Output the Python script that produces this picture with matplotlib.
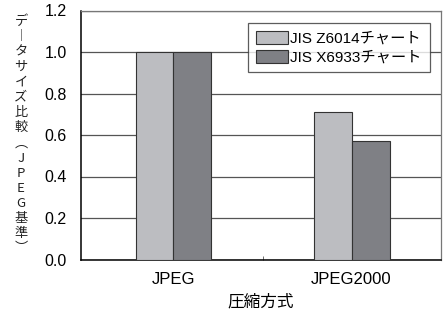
import matplotlib
matplotlib.use("Agg")
import matplotlib.pyplot as plt
import numpy as np

plt.rcParams['font.family'] = ['Liberation Sans', 'Noto Sans CJK JP', 'DejaVu Sans']

categories = ["JPEG", "JPEG2000"]
series_names = ["JIS Z6014チャート", "JIS X6933チャート"]
z6014 = [1.0, 0.71]
x6933 = [1.0, 0.57]
yticks = [0.0, 0.2, 0.4, 0.6, 0.8, 1.0, 1.2]
ylabel = "デ︱タサイズ比較︵JPEG基準︶"
xlabel = "圧縮方式"

colors = ["#bcbdc1", "#7f8085"]

fig = plt.figure(figsize=(4.43, 3.10), dpi=100)
ax = fig.add_axes([80.5 / 443, 50.5 / 310, 360.5 / 443, 249 / 310])

x = np.arange(len(categories))
w = 0.213
ax.bar(x - w / 2, z6014, w, color=colors[0], edgecolor="#333333", linewidth=0.8,
       label=series_names[0], zorder=3)
ax.bar(x + w / 2, x6933, w, color=colors[1], edgecolor="#333333", linewidth=0.8,
       label=series_names[1], zorder=3)

ax.set_xlim(-0.522, 1.502)
ax.set_ylim(0, 1.2)
ax.set_yticks(yticks)
ax.set_yticklabels(["%.1f" % v for v in yticks], fontsize=11.5)
ax.tick_params(axis="y", length=0, pad=10)
ax.set_xticks(x)
ax.set_xticklabels(categories, fontsize=12)
ax.tick_params(axis="x", which="major", length=0, pad=9)
ax.set_xticks([0.5], minor=True)
ax.tick_params(axis="x", which="minor", length=3, direction="in", color="#555555")

ax.yaxis.grid(True, color="#555555", linewidth=0.9, zorder=0)
ax.set_axisbelow(True)
for s in ["top", "right"]:
    ax.spines[s].set_color("#777777")
    ax.spines[s].set_linewidth(0.9)
for s in ["left", "bottom"]:
    ax.spines[s].set_color("black")
    ax.spines[s].set_linewidth(1.1)

ax.set_xlabel(xlabel, fontsize=12, labelpad=5)

leg = ax.legend(loc="upper right", bbox_to_anchor=(429.5 / 443, 1 - 23 / 310),
                bbox_transform=fig.transFigure, fontsize=11, frameon=True, fancybox=False,
                handlelength=2.1, handleheight=1.0, handletextpad=0.15,
                borderpad=0.5, labelspacing=0.26, borderaxespad=0)
leg.get_frame().set_edgecolor("#333333")
leg.get_frame().set_linewidth(0.9)
leg.set_zorder(5)

# vertical y label, one upright character per line
n = len(ylabel)
top, bottom = 21.5, 249
for i, ch in enumerate(ylabel):
    yy = top + (bottom - top) * i / (n - 1)
    fig.text(21 / 443, 1 - yy / 310, ch, fontsize=9.5, ha="center", va="center",
             family=['Noto Sans CJK JP', 'DejaVu Sans'], color="#222222")

fig.savefig("out.png", dpi=100)
